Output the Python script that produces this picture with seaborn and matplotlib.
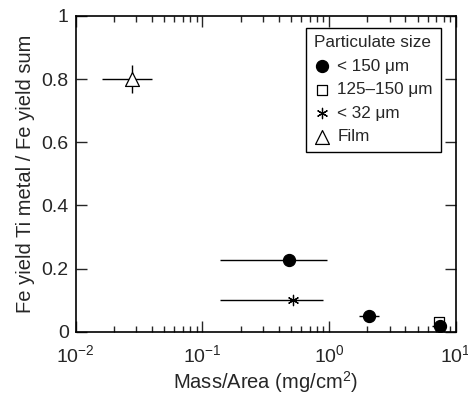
import matplotlib
matplotlib.use("Agg")
import matplotlib.pyplot as plt
import numpy as np
import pandas as pd
import seaborn as sns
from matplotlib.ticker import LogLocator, MultipleLocator, FuncFormatter

# values
labels = ["< 150 \u03bcm", "< 150 \u03bcm", "< 150 \u03bcm", "125\u2013150 \u03bcm", "< 32 \u03bcm", "Film"]
mass = [0.483, 2.07, 7.55, 7.36, 0.52, 0.028]
ratio = [0.228, 0.05, 0.02, 0.03, 0.10, 0.80]
mass_lo = [0.137, 1.72, 6.5, 7.36, 0.137, 0.016]
mass_hi = [0.97, 2.48, 8.4, 7.36, 0.895, 0.040]
ratio_err = [0.0, 0.0, 0.0, 0.0, 0.0, 0.045]

legend_order = ["< 150 \u03bcm", "125\u2013150 \u03bcm", "< 32 \u03bcm", "Film"]

df = pd.DataFrame({"size": labels, "mass": mass, "ratio": ratio,
                   "lo": mass_lo, "hi": mass_hi, "yerr": ratio_err})

sns.set_style("ticks")
plt.rcParams["font.family"] = ["Liberation Sans", "DejaVu Sans"]
plt.rcParams["mathtext.fontset"] = "custom"
plt.rcParams["mathtext.rm"] = "Liberation Sans"
plt.rcParams["mathtext.default"] = "regular"

fig = plt.figure(figsize=(4.68, 3.96), dpi=100)
ax = fig.add_axes([0.162, 0.162, 0.812, 0.798])

# error bars first
xerr = np.array([df["mass"] - df["lo"], df["hi"] - df["mass"]])
ax.errorbar(df["mass"], df["ratio"], xerr=xerr, yerr=df["yerr"], fmt="none",
            ecolor="black", elinewidth=1, capsize=0, zorder=1)

styles = {
    "125\u2013150 \u03bcm": dict(marker="s", color="white", edgecolor="black", s=55, linewidth=0.9),
    "< 32 \u03bcm": dict(marker=(6, 2, 0), color="black", s=55, linewidth=0.9),
    "Film": dict(marker="^", color="white", edgecolor="black", s=100, linewidth=0.9),
    "< 150 \u03bcm": dict(marker="o", color="black", edgecolor="black", s=75, linewidth=0.9),
}
for name, kw in styles.items():
    sub = df[df["size"] == name]
    sns.scatterplot(data=sub, x="mass", y="ratio", ax=ax, zorder=3, label=name, **kw)

ax.set_xscale("log")
ax.set_xlim(1e-2, 1e1)
ax.set_ylim(0, 1)
ax.yaxis.set_major_locator(MultipleLocator(0.2))
ax.yaxis.set_major_formatter(FuncFormatter(lambda v, p: "0" if abs(v) < 1e-9 else ("1" if abs(v - 1) < 1e-9 else f"{v:.1f}")))
ax.xaxis.set_minor_locator(LogLocator(base=10, subs=np.arange(2, 10)))

ax.tick_params(which="both", direction="in", top=True, right=True, labelsize=14)
ax.tick_params(axis="x", pad=9)
ax.tick_params(axis="y", pad=5)
ax.tick_params(which="major", length=8, width=1)
ax.tick_params(which="minor", length=4, width=1)
for sp in ax.spines.values():
    sp.set_linewidth(1.2)
    sp.set_color("black")

ax.set_xlabel("Mass/Area (mg/cm$^2$)", fontsize=14.5, labelpad=2)
ax.set_ylabel("Fe yield Ti metal / Fe yield sum", fontsize=14.5, labelpad=5)

handles, hlabels = ax.get_legend_handles_labels()
hmap = dict(zip(hlabels, handles))
leg = ax.legend([hmap[k] for k in legend_order], legend_order, title="Particulate size",
                loc="upper right", bbox_to_anchor=(0.96, 0.963), borderaxespad=0,
                fontsize=12.3, title_fontsize=12.3,
                frameon=True, fancybox=False, edgecolor="black", framealpha=1,
                handletextpad=0.4, handlelength=1.0, labelspacing=0.5, borderpad=0.45,
                alignment="left")
leg.get_frame().set_linewidth(1)

fig.savefig("out.png", dpi=100)
